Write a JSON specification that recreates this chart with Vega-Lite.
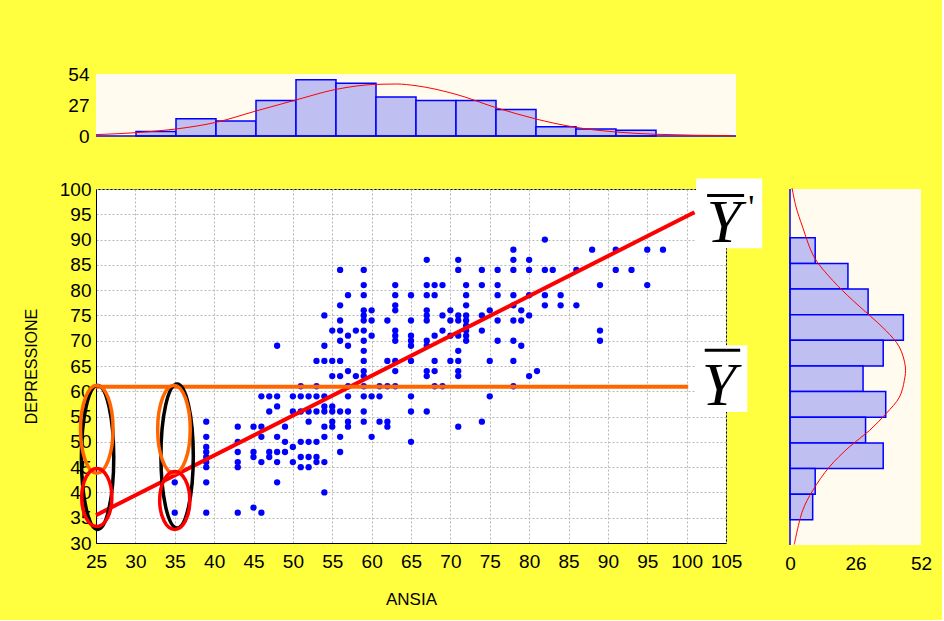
{
"$schema": "https://vega.github.io/schema/vega-lite/v6.json",
"background": "#FFFF40",
"padding": {"left": 22, "top": 65, "right": 10, "bottom": 12},
"config": {"font": "Liberation Sans", "axis": {"labelFont": "Liberation Sans", "titleFont": "Liberation Sans", "labelColor": "black", "titleColor": "black", "titleFontWeight": "normal"}},
"datasets": {
"points": [
{"ANSIA":35,"DEPRESSIONE":42},{"ANSIA":35,"DEPRESSIONE":36},
{"ANSIA":39,"DEPRESSIONE":54},{"ANSIA":39,"DEPRESSIONE":51},{"ANSIA":39,"DEPRESSIONE":49},{"ANSIA":39,"DEPRESSIONE":48},{"ANSIA":39,"DEPRESSIONE":47},{"ANSIA":39,"DEPRESSIONE":46},{"ANSIA":39,"DEPRESSIONE":45},{"ANSIA":39,"DEPRESSIONE":42},{"ANSIA":39,"DEPRESSIONE":36},
{"ANSIA":43,"DEPRESSIONE":53},{"ANSIA":43,"DEPRESSIONE":50},{"ANSIA":43,"DEPRESSIONE":48},{"ANSIA":43,"DEPRESSIONE":46},{"ANSIA":43,"DEPRESSIONE":45},{"ANSIA":43,"DEPRESSIONE":36},
{"ANSIA":45,"DEPRESSIONE":53},{"ANSIA":45,"DEPRESSIONE":48},{"ANSIA":45,"DEPRESSIONE":47},{"ANSIA":45,"DEPRESSIONE":37},
{"ANSIA":46,"DEPRESSIONE":59},{"ANSIA":46,"DEPRESSIONE":53},{"ANSIA":46,"DEPRESSIONE":51},{"ANSIA":46,"DEPRESSIONE":46},{"ANSIA":46,"DEPRESSIONE":36},
{"ANSIA":47,"DEPRESSIONE":59},{"ANSIA":47,"DEPRESSIONE":56},{"ANSIA":47,"DEPRESSIONE":48},{"ANSIA":47,"DEPRESSIONE":47},
{"ANSIA":48,"DEPRESSIONE":69},{"ANSIA":48,"DEPRESSIONE":59},{"ANSIA":48,"DEPRESSIONE":57},{"ANSIA":48,"DEPRESSIONE":51},{"ANSIA":48,"DEPRESSIONE":48},{"ANSIA":48,"DEPRESSIONE":46},{"ANSIA":48,"DEPRESSIONE":42},
{"ANSIA":49,"DEPRESSIONE":53},{"ANSIA":49,"DEPRESSIONE":50},{"ANSIA":49,"DEPRESSIONE":48},
{"ANSIA":50,"DEPRESSIONE":59},{"ANSIA":50,"DEPRESSIONE":56},{"ANSIA":50,"DEPRESSIONE":49},{"ANSIA":50,"DEPRESSIONE":46},
{"ANSIA":51,"DEPRESSIONE":61},{"ANSIA":51,"DEPRESSIONE":59},{"ANSIA":51,"DEPRESSIONE":56},{"ANSIA":51,"DEPRESSIONE":50},{"ANSIA":51,"DEPRESSIONE":47},{"ANSIA":51,"DEPRESSIONE":45},
{"ANSIA":52,"DEPRESSIONE":59},{"ANSIA":52,"DEPRESSIONE":56},{"ANSIA":52,"DEPRESSIONE":54},{"ANSIA":52,"DEPRESSIONE":50},{"ANSIA":52,"DEPRESSIONE":47},{"ANSIA":52,"DEPRESSIONE":45},
{"ANSIA":53,"DEPRESSIONE":66},{"ANSIA":53,"DEPRESSIONE":61},{"ANSIA":53,"DEPRESSIONE":59},{"ANSIA":53,"DEPRESSIONE":56},{"ANSIA":53,"DEPRESSIONE":50},{"ANSIA":53,"DEPRESSIONE":47},{"ANSIA":53,"DEPRESSIONE":46},
{"ANSIA":54,"DEPRESSIONE":75},{"ANSIA":54,"DEPRESSIONE":69},{"ANSIA":54,"DEPRESSIONE":66},{"ANSIA":54,"DEPRESSIONE":59},{"ANSIA":54,"DEPRESSIONE":57},{"ANSIA":54,"DEPRESSIONE":56},{"ANSIA":54,"DEPRESSIONE":53},{"ANSIA":54,"DEPRESSIONE":51},{"ANSIA":54,"DEPRESSIONE":46},{"ANSIA":54,"DEPRESSIONE":40},
{"ANSIA":55,"DEPRESSIONE":72},{"ANSIA":55,"DEPRESSIONE":66},{"ANSIA":55,"DEPRESSIONE":63},{"ANSIA":55,"DEPRESSIONE":57},{"ANSIA":55,"DEPRESSIONE":56},{"ANSIA":55,"DEPRESSIONE":54},{"ANSIA":55,"DEPRESSIONE":53},
{"ANSIA":56,"DEPRESSIONE":84},{"ANSIA":56,"DEPRESSIONE":77},{"ANSIA":56,"DEPRESSIONE":74},{"ANSIA":56,"DEPRESSIONE":72},{"ANSIA":56,"DEPRESSIONE":70},{"ANSIA":56,"DEPRESSIONE":66},{"ANSIA":56,"DEPRESSIONE":63},{"ANSIA":56,"DEPRESSIONE":56},{"ANSIA":56,"DEPRESSIONE":51},{"ANSIA":56,"DEPRESSIONE":48},
{"ANSIA":57,"DEPRESSIONE":79},{"ANSIA":57,"DEPRESSIONE":71},{"ANSIA":57,"DEPRESSIONE":69},{"ANSIA":57,"DEPRESSIONE":64},{"ANSIA":57,"DEPRESSIONE":61},{"ANSIA":57,"DEPRESSIONE":59},{"ANSIA":57,"DEPRESSIONE":56},{"ANSIA":57,"DEPRESSIONE":54},{"ANSIA":57,"DEPRESSIONE":53},
{"ANSIA":58,"DEPRESSIONE":72},{"ANSIA":58,"DEPRESSIONE":63},
{"ANSIA":59,"DEPRESSIONE":84},{"ANSIA":59,"DEPRESSIONE":81},{"ANSIA":59,"DEPRESSIONE":79},{"ANSIA":59,"DEPRESSIONE":76},{"ANSIA":59,"DEPRESSIONE":75},{"ANSIA":59,"DEPRESSIONE":74},{"ANSIA":59,"DEPRESSIONE":72},{"ANSIA":59,"DEPRESSIONE":70},{"ANSIA":59,"DEPRESSIONE":68},{"ANSIA":59,"DEPRESSIONE":66},{"ANSIA":59,"DEPRESSIONE":64},{"ANSIA":59,"DEPRESSIONE":63},{"ANSIA":59,"DEPRESSIONE":61},{"ANSIA":59,"DEPRESSIONE":59},{"ANSIA":59,"DEPRESSIONE":56},{"ANSIA":59,"DEPRESSIONE":54},
{"ANSIA":60,"DEPRESSIONE":76},{"ANSIA":60,"DEPRESSIONE":74},{"ANSIA":60,"DEPRESSIONE":71},{"ANSIA":60,"DEPRESSIONE":59},{"ANSIA":60,"DEPRESSIONE":51},
{"ANSIA":61,"DEPRESSIONE":61},{"ANSIA":61,"DEPRESSIONE":59},{"ANSIA":61,"DEPRESSIONE":54},
{"ANSIA":62,"DEPRESSIONE":74},{"ANSIA":62,"DEPRESSIONE":66},{"ANSIA":62,"DEPRESSIONE":61},{"ANSIA":62,"DEPRESSIONE":54},{"ANSIA":62,"DEPRESSIONE":53},
{"ANSIA":63,"DEPRESSIONE":81},{"ANSIA":63,"DEPRESSIONE":79},{"ANSIA":63,"DEPRESSIONE":77},{"ANSIA":63,"DEPRESSIONE":76},{"ANSIA":63,"DEPRESSIONE":72},{"ANSIA":63,"DEPRESSIONE":71},{"ANSIA":63,"DEPRESSIONE":70},{"ANSIA":63,"DEPRESSIONE":66},{"ANSIA":63,"DEPRESSIONE":64},{"ANSIA":63,"DEPRESSIONE":61},
{"ANSIA":65,"DEPRESSIONE":79},{"ANSIA":65,"DEPRESSIONE":74},{"ANSIA":65,"DEPRESSIONE":71},{"ANSIA":65,"DEPRESSIONE":70},{"ANSIA":65,"DEPRESSIONE":69},{"ANSIA":65,"DEPRESSIONE":66},{"ANSIA":65,"DEPRESSIONE":59},{"ANSIA":65,"DEPRESSIONE":56},{"ANSIA":65,"DEPRESSIONE":50},
{"ANSIA":67,"DEPRESSIONE":86},{"ANSIA":67,"DEPRESSIONE":81},{"ANSIA":67,"DEPRESSIONE":79},{"ANSIA":67,"DEPRESSIONE":76},{"ANSIA":67,"DEPRESSIONE":75},{"ANSIA":67,"DEPRESSIONE":74},{"ANSIA":67,"DEPRESSIONE":70},{"ANSIA":67,"DEPRESSIONE":69},{"ANSIA":67,"DEPRESSIONE":64},{"ANSIA":67,"DEPRESSIONE":63},{"ANSIA":67,"DEPRESSIONE":56},
{"ANSIA":68,"DEPRESSIONE":81},{"ANSIA":68,"DEPRESSIONE":79},{"ANSIA":68,"DEPRESSIONE":71},{"ANSIA":68,"DEPRESSIONE":66},{"ANSIA":68,"DEPRESSIONE":64},{"ANSIA":68,"DEPRESSIONE":61},
{"ANSIA":69,"DEPRESSIONE":81},{"ANSIA":69,"DEPRESSIONE":75},{"ANSIA":69,"DEPRESSIONE":72},{"ANSIA":69,"DEPRESSIONE":61},
{"ANSIA":70,"DEPRESSIONE":76},{"ANSIA":70,"DEPRESSIONE":74},{"ANSIA":70,"DEPRESSIONE":71},{"ANSIA":70,"DEPRESSIONE":66},
{"ANSIA":71,"DEPRESSIONE":86},{"ANSIA":71,"DEPRESSIONE":84},{"ANSIA":71,"DEPRESSIONE":75},{"ANSIA":71,"DEPRESSIONE":74},{"ANSIA":71,"DEPRESSIONE":71},{"ANSIA":71,"DEPRESSIONE":68},{"ANSIA":71,"DEPRESSIONE":66},{"ANSIA":71,"DEPRESSIONE":64},{"ANSIA":71,"DEPRESSIONE":63},{"ANSIA":71,"DEPRESSIONE":53},
{"ANSIA":72,"DEPRESSIONE":81},{"ANSIA":72,"DEPRESSIONE":79},{"ANSIA":72,"DEPRESSIONE":77},{"ANSIA":72,"DEPRESSIONE":75},{"ANSIA":72,"DEPRESSIONE":74},{"ANSIA":72,"DEPRESSIONE":73},{"ANSIA":72,"DEPRESSIONE":72},{"ANSIA":72,"DEPRESSIONE":71},{"ANSIA":72,"DEPRESSIONE":70},
{"ANSIA":74,"DEPRESSIONE":84},{"ANSIA":74,"DEPRESSIONE":81},{"ANSIA":74,"DEPRESSIONE":75},{"ANSIA":74,"DEPRESSIONE":72},{"ANSIA":74,"DEPRESSIONE":54},
{"ANSIA":75,"DEPRESSIONE":76},{"ANSIA":75,"DEPRESSIONE":66},{"ANSIA":75,"DEPRESSIONE":59},
{"ANSIA":76,"DEPRESSIONE":84},{"ANSIA":76,"DEPRESSIONE":81},{"ANSIA":76,"DEPRESSIONE":79},{"ANSIA":76,"DEPRESSIONE":74},{"ANSIA":76,"DEPRESSIONE":70},
{"ANSIA":78,"DEPRESSIONE":88},{"ANSIA":78,"DEPRESSIONE":86},{"ANSIA":78,"DEPRESSIONE":84},{"ANSIA":78,"DEPRESSIONE":79},{"ANSIA":78,"DEPRESSIONE":77},{"ANSIA":78,"DEPRESSIONE":74},{"ANSIA":78,"DEPRESSIONE":70},{"ANSIA":78,"DEPRESSIONE":66},{"ANSIA":78,"DEPRESSIONE":61},
{"ANSIA":79,"DEPRESSIONE":76},{"ANSIA":79,"DEPRESSIONE":74},{"ANSIA":79,"DEPRESSIONE":69},
{"ANSIA":80,"DEPRESSIONE":86},{"ANSIA":80,"DEPRESSIONE":84},{"ANSIA":80,"DEPRESSIONE":79},{"ANSIA":80,"DEPRESSIONE":75},{"ANSIA":80,"DEPRESSIONE":63},
{"ANSIA":81,"DEPRESSIONE":64},
{"ANSIA":82,"DEPRESSIONE":90},{"ANSIA":82,"DEPRESSIONE":84},{"ANSIA":82,"DEPRESSIONE":79},{"ANSIA":82,"DEPRESSIONE":77},
{"ANSIA":83,"DEPRESSIONE":84},
{"ANSIA":84,"DEPRESSIONE":79},{"ANSIA":84,"DEPRESSIONE":77},
{"ANSIA":86,"DEPRESSIONE":84},{"ANSIA":86,"DEPRESSIONE":77},
{"ANSIA":88,"DEPRESSIONE":88},
{"ANSIA":89,"DEPRESSIONE":81},{"ANSIA":89,"DEPRESSIONE":72},{"ANSIA":89,"DEPRESSIONE":70},
{"ANSIA":91,"DEPRESSIONE":88},{"ANSIA":91,"DEPRESSIONE":84},
{"ANSIA":93,"DEPRESSIONE":84},
{"ANSIA":95,"DEPRESSIONE":88},{"ANSIA":95,"DEPRESSIONE":81},
{"ANSIA":97,"DEPRESSIONE":88}
],
"regression": [{"ANSIA":25,"DEPRESSIONE":35.5},{"ANSIA":101,"DEPRESSIONE":95.4}],
"meanline": [{"ANSIA":25,"DEPRESSIONE":60.9},{"ANSIA":100.2,"DEPRESSIONE":60.9}],
"ellipses": [
{"ANSIA":25.2,"DEPRESSIONE":46.9,"kind":"black"},{"ANSIA":35.3,"DEPRESSIONE":47.2,"kind":"black"},
{"ANSIA":25.1,"DEPRESSIONE":52.5,"kind":"orange"},{"ANSIA":34.9,"DEPRESSIONE":52.5,"kind":"orange"},
{"ANSIA":25.1,"DEPRESSIONE":39.0,"kind":"red"},{"ANSIA":35.0,"DEPRESSIONE":38.4,"kind":"red"}
],
"boxes": [{"x1":101.2,"x2":109.6,"y1":88.3,"y2":102.1},{"x1":101.2,"x2":107.7,"y1":55.9,"y2":69.1}],
"symbols": [{"ANSIA":104.7,"DEPRESSIONE":89.5,"label":"Y"},{"ANSIA":104.1,"DEPRESSIONE":57.3,"label":"Y"}],
"primes": [{"ANSIA":108.2,"DEPRESSIONE":94.2,"label":"'"}],
"overlines": [{"x1":102.6,"x2":107.3,"y":98.7},{"x1":102.3,"x2":106.8,"y":68.1}],
"histX": [
{"lo":30,"hi":35,"count":4},{"lo":35,"hi":40,"count":15},{"lo":40,"hi":45,"count":13},{"lo":45,"hi":50,"count":31},{"lo":50,"hi":55,"count":49},{"lo":55,"hi":60,"count":46},{"lo":60,"hi":65,"count":34},{"lo":65,"hi":70,"count":31},{"lo":70,"hi":75,"count":31},{"lo":75,"hi":80,"count":23},{"lo":80,"hi":85,"count":8},{"lo":85,"hi":90,"count":6},{"lo":90,"hi":95,"count":5}
],
"curveX": [
{"ANSIA":25,"count":1.2},{"ANSIA":30,"count":2.9},{"ANSIA":35,"count":6.1},{"ANSIA":40,"count":11.9},{"ANSIA":45,"count":21.8},{"ANSIA":50,"count":31.4},{"ANSIA":55,"count":40.6},{"ANSIA":60,"count":45},{"ANSIA":62.6,"count":45.3},{"ANSIA":65,"count":43.8},{"ANSIA":70,"count":36.3},{"ANSIA":75,"count":24.7},{"ANSIA":80,"count":14.8},{"ANSIA":85,"count":7.5},{"ANSIA":90,"count":3.5},{"ANSIA":95,"count":1.5},{"ANSIA":104.6,"count":0.3}
],
"histY": [
{"lo":85,"hi":90,"count":10},{"lo":80,"hi":85,"count":23},{"lo":75,"hi":80,"count":31},{"lo":70,"hi":75,"count":45},{"lo":65,"hi":70,"count":37},{"lo":60,"hi":65,"count":29},{"lo":55,"hi":60,"count":38},{"lo":50,"hi":55,"count":30},{"lo":45,"hi":50,"count":37},{"lo":40,"hi":45,"count":10},{"lo":35,"hi":40,"count":9}
],
"curveY": [
{"count":0.8,"DEPRESSIONE":99.7},{"count":2.4,"DEPRESSIONE":96},{"count":5.0,"DEPRESSIONE":92.1},{"count":9.6,"DEPRESSIONE":86.2},{"count":16.9,"DEPRESSIONE":81.7},{"count":24.9,"DEPRESSIONE":77.8},{"count":31.5,"DEPRESSIONE":74.9},{"count":38.1,"DEPRESSIONE":71.9},{"count":43.4,"DEPRESSIONE":68.7},{"count":45.8,"DEPRESSIONE":64.8},{"count":45.4,"DEPRESSIONE":62.2},{"count":43.4,"DEPRESSIONE":58.9},{"count":38.1,"DEPRESSIONE":55.7},{"count":31.5,"DEPRESSIONE":52.4},{"count":23.5,"DEPRESSIONE":49.2},{"count":15.6,"DEPRESSIONE":45.3},{"count":9.0,"DEPRESSIONE":40.7},{"count":5.0,"DEPRESSIONE":36.8},{"count":1.7,"DEPRESSIONE":30.2}
]
},
"spacing": 53,
"bounds": "flush",
"vconcat": [
{
"width": 640, "height": 62,
"view": {"fill": "#FFFBEF", "stroke": null},
"layer": [
{"data": {"name": "histX"}, "mark": {"type": "rect", "fill": "#BFBFF2", "stroke": "#0000FF", "strokeWidth": 1.5},
"encoding": {
"x": {"field": "lo", "type": "quantitative", "scale": {"domain": [25, 105], "nice": false, "zero": false}, "axis": null},
"x2": {"field": "hi"},
"y": {"field": "count", "type": "quantitative", "scale": {"domain": [0, 54], "nice": false}, "axis": {"values": [0, 27, 54], "tickCount": 5, "ticks": false, "domain": false, "grid": false, "labelFontSize": 19, "labelPadding": 7, "title": null, "labelFlush": false, "labelOverlap": false}},
"y2": {"datum": 0}}},
{"data": {"values": [{}]}, "mark": {"type": "rule", "stroke": "#0000FF", "strokeWidth": 1.5}, "encoding": {"y": {"datum": 0}}},
{"data": {"name": "curveX"}, "mark": {"type": "line", "stroke": "#FF0000", "strokeWidth": 1, "interpolate": "monotone"},
"encoding": {"x": {"field": "ANSIA", "type": "quantitative"}, "y": {"field": "count", "type": "quantitative"}}}
]
},
{
"spacing": 64,
"bounds": "flush",
"hconcat": [
{
"width": 630, "height": 354,
"view": {"fill": "white", "stroke": "black", "strokeWidth": 1},
"layer": [
{"data": {"name": "points"}, "mark": {"type": "circle", "color": "#0000FF", "size": 40, "opacity": 1},
"encoding": {
"x": {"field": "ANSIA", "type": "quantitative", "scale": {"domain": [25, 105], "nice": false, "zero": false},
"axis": {"values": [25,30,35,40,45,50,55,60,65,70,75,80,85,90,95,100,105], "tickCount": 20, "title": "ANSIA", "grid": true, "gridColor": "#b8b8b8", "gridDash": [2, 2], "ticks": false, "domainColor": "black", "labelFontSize": 19, "labelPadding": 9, "titleFontSize": 17, "titlePadding": 20, "labelFlush": false, "labelOverlap": false}},
"y": {"field": "DEPRESSIONE", "type": "quantitative", "scale": {"domain": [30, 100], "nice": false, "zero": false},
"axis": {"values": [30,35,40,45,50,55,60,65,70,75,80,85,90,95,100], "tickCount": 20, "title": "DEPRESSIONE", "grid": true, "gridColor": "#b8b8b8", "gridDash": [2, 2], "ticks": false, "domainColor": "black", "labelFontSize": 19, "labelPadding": 5, "titleFontSize": 16, "titlePadding": 20, "labelFlush": false, "labelOverlap": false}}
}},
{"data": {"name": "regression"}, "mark": {"type": "line", "stroke": "#FF0000", "strokeWidth": 4},
"encoding": {"x": {"field": "ANSIA", "type": "quantitative"}, "y": {"field": "DEPRESSIONE", "type": "quantitative"}}},
{"data": {"name": "meanline"}, "mark": {"type": "line", "stroke": "#FF6600", "strokeWidth": 4},
"encoding": {"x": {"field": "ANSIA", "type": "quantitative"}, "y": {"field": "DEPRESSIONE", "type": "quantitative"}}},
{"data": {"name": "ellipses"}, "transform": [{"filter": "datum.kind === 'black'"}],
"mark": {"type": "point", "shape": "M0,-1C0.124,-1 0.225,-0.552 0.225,0C0.225,0.552 0.124,1 0,1C-0.124,1 -0.225,0.552 -0.225,0C-0.225,-0.552 -0.124,-1 0,-1Z", "size": 20700, "filled": false, "stroke": "black", "strokeWidth": 3.5, "opacity": 1},
"encoding": {"x": {"field": "ANSIA", "type": "quantitative"}, "y": {"field": "DEPRESSIONE", "type": "quantitative"}}},
{"data": {"name": "ellipses"}, "transform": [{"filter": "datum.kind === 'orange'"}],
"mark": {"type": "point", "shape": "M0,-1C0.204,-1 0.37,-0.552 0.37,0C0.37,0.552 0.204,1 0,1C-0.204,1 -0.37,0.552 -0.37,0C-0.37,-0.552 -0.204,-1 0,-1Z", "size": 7744, "filled": false, "stroke": "#FF6600", "strokeWidth": 3.5, "opacity": 1},
"encoding": {"x": {"field": "ANSIA", "type": "quantitative"}, "y": {"field": "DEPRESSIONE", "type": "quantitative"}}},
{"data": {"name": "ellipses"}, "transform": [{"filter": "datum.kind === 'red'"}],
"mark": {"type": "point", "shape": "M0,-1C0.287,-1 0.52,-0.552 0.52,0C0.52,0.552 0.287,1 0,1C-0.287,1 -0.52,0.552 -0.52,0C-0.52,-0.552 -0.287,-1 0,-1Z", "size": 3364, "filled": false, "stroke": "#FF0000", "strokeWidth": 3.5, "opacity": 1},
"encoding": {"x": {"field": "ANSIA", "type": "quantitative"}, "y": {"field": "DEPRESSIONE", "type": "quantitative"}}},
{"data": {"name": "boxes"}, "mark": {"type": "rect", "fill": "white"},
"encoding": {"x": {"field": "x1", "type": "quantitative"}, "x2": {"field": "x2"}, "y": {"field": "y1", "type": "quantitative"}, "y2": {"field": "y2"}}},
{"data": {"name": "symbols"}, "mark": {"type": "text", "font": "Liberation Serif", "fontStyle": "italic", "fontSize": 62, "align": "center", "baseline": "alphabetic", "color": "black"},
"encoding": {"x": {"field": "ANSIA", "type": "quantitative"}, "y": {"field": "DEPRESSIONE", "type": "quantitative"}, "text": {"field": "label"}}},
{"data": {"name": "primes"}, "mark": {"type": "text", "font": "Liberation Serif", "fontSize": 34, "align": "center", "baseline": "alphabetic", "color": "black"},
"encoding": {"x": {"field": "ANSIA", "type": "quantitative"}, "y": {"field": "DEPRESSIONE", "type": "quantitative"}, "text": {"field": "label"}}},
{"data": {"name": "overlines"}, "mark": {"type": "rule", "stroke": "black", "strokeWidth": 3},
"encoding": {"x": {"field": "x1", "type": "quantitative"}, "x2": {"field": "x2"}, "y": {"field": "y", "type": "quantitative"}}}
]
},
{
"width": 131, "height": 356,
"view": {"fill": "#FFFBEF", "stroke": null},
"layer": [
{"data": {"name": "histY"}, "mark": {"type": "rect", "fill": "#BFBFF2", "stroke": "#0000FF", "strokeWidth": 1.5},
"encoding": {
"y": {"field": "lo", "type": "quantitative", "scale": {"domain": [30.1, 99.5], "nice": false, "zero": false}, "axis": null},
"y2": {"field": "hi"},
"x": {"field": "count", "type": "quantitative", "scale": {"domain": [0, 52], "nice": false}, "axis": {"values": [0, 26, 52], "tickCount": 5, "ticks": false, "domain": false, "grid": false, "labelFontSize": 19, "labelPadding": 9, "title": null, "labelFlush": false, "labelOverlap": false}},
"x2": {"datum": 0}}},
{"data": {"values": [{}]}, "mark": {"type": "rule", "stroke": "#0000FF", "strokeWidth": 1.5}, "encoding": {"x": {"datum": 0}}},
{"data": {"name": "curveY"}, "mark": {"type": "line", "stroke": "#FF0000", "strokeWidth": 1, "interpolate": "catmull-rom"},
"encoding": {"x": {"field": "count", "type": "quantitative"}, "y": {"field": "DEPRESSIONE", "type": "quantitative"}, "order": {"field": "DEPRESSIONE", "type": "quantitative"}}}
]
}
]
}
]
}
